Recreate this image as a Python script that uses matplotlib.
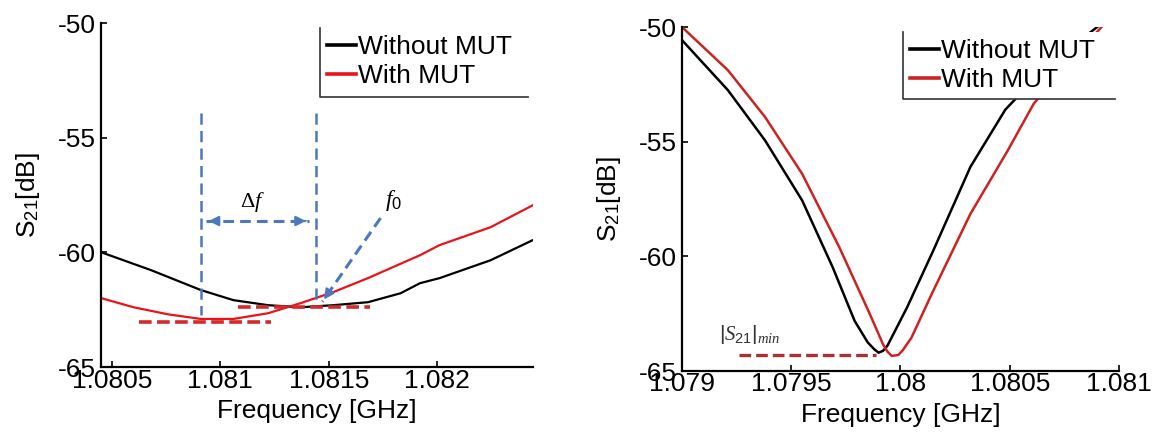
import matplotlib
matplotlib.use("Agg")
import matplotlib.pyplot as plt
from matplotlib.patches import Rectangle
from matplotlib.lines import Line2D

plt.rcParams['font.family'] = ['Liberation Sans', 'DejaVu Sans']
plt.rcParams['mathtext.fontset'] = 'custom'
plt.rcParams['mathtext.rm'] = 'Liberation Sans'
plt.rcParams['mathtext.it'] = 'Liberation Serif:italic'
plt.rcParams['mathtext.bf'] = 'Liberation Serif'

# ---- left panel data (GHz, dB) ----
freq_l_without = [1.08045, 1.08068, 1.08091, 1.08106, 1.08122, 1.08137, 1.08152,
                  1.08168, 1.08183, 1.08192, 1.08201, 1.082245, 1.08244]
s21_l_without = [-59.99, -60.77, -61.64, -62.08, -62.30, -62.39, -62.30,
                 -62.17, -61.78, -61.34, -61.12, -60.34, -59.46]
freq_l_with = [1.08045, 1.08060, 1.08076, 1.08091, 1.08106, 1.08122, 1.08137,
               1.08152, 1.08168, 1.08192, 1.08201, 1.082245, 1.08244]
s21_l_with = [-61.99, -62.39, -62.70, -62.90, -62.90, -62.65, -62.21,
              -61.73, -61.12, -60.12, -59.68, -58.90, -57.94]

# ---- right panel data (GHz, dB) ----
freq_r_without = [1.07900, 1.07921, 1.07938, 1.07955, 1.07969, 1.07979, 1.07985,
                  1.07988, 1.07990, 1.07992, 1.07994, 1.08003, 1.08015, 1.08032,
                  1.08048, 1.08065, 1.08078, 1.08090]
s21_r_without = [-50.57, -52.75, -54.94, -57.56, -60.48, -62.81, -63.75,
                 -64.05, -64.20, -64.12, -63.90, -62.23, -59.75, -56.10,
                 -53.60, -51.90, -50.90, -50.00]
freq_r_with = [1.07900, 1.07921, 1.07938, 1.07955, 1.07972, 1.07986, 1.07992,
               1.07994, 1.07996, 1.07999, 1.08001, 1.08005, 1.08015, 1.08032,
               1.08049, 1.08061, 1.08075, 1.08092]
s21_r_with = [-50.00, -51.88, -53.92, -56.40, -59.60, -62.52, -63.83,
              -64.15, -64.34, -64.30, -64.10, -63.55, -61.50, -58.15,
              -55.40, -53.34, -51.80, -50.00]

series_labels = ['Without MUT', 'With MUT']

xticks_l = [1.0805, 1.081, 1.0815, 1.082]
xticklabels_l = ['1.0805', '1.081', '1.0815', '1.082']
xticks_r = [1.079, 1.0795, 1.08, 1.0805, 1.081]
xticklabels_r = ['1.079', '1.0795', '1.08', '1.0805', '1.081']
yticks = [-50, -55, -60, -65]
yticklabels = ['-50', '-55', '-60', '-65']

# annotations (left panel)
df_lines_f = [1.08091, 1.08144]
df_lines_top = -53.93
df_lines_bottom = [-62.73, -62.17]
df_arrow_f = [1.080933, 1.081407]
df_arrow_y = -58.63
f0_arrow_start = (1.081738, -58.5)
f0_arrow_end = (1.08147, -62.15)
red_dash_low_f = [1.080624, 1.081232]
red_dash_low_y = -63.03
red_dash_high_f = [1.08108, 1.08169]
red_dash_high_y = -62.39
# annotation (right panel)
smin_dash_f = [1.07926, 1.07989]
smin_dash_y = -64.3

BLUE = '#4d78bd'
FS = 19

fig = plt.figure(figsize=(11.61, 4.36), dpi=100)
ax1 = fig.add_axes([0.087, 0.158, 0.372, 0.789])
ax2 = fig.add_axes([0.5874, 0.149, 0.3764, 0.789])


def style_axes(ax, xticks, xlabels, xlim):
    ax.set_xlim(*xlim)
    ax.set_ylim(-65, -50)
    ax.set_xticks(xticks, xlabels)
    ax.set_yticks(yticks, yticklabels)
    for s in ['top', 'right']:
        ax.spines[s].set_visible(False)
    for s in ['left', 'bottom']:
        ax.spines[s].set_linewidth(1.6)
    ax.tick_params(direction='in', length=4, width=1.2, labelsize=FS)
    ax.tick_params(axis='x', pad=1)
    ax.tick_params(axis='y', pad=4)
    ax.set_xlabel('Frequency [GHz]', fontsize=FS, labelpad=5)
    ax.set_ylabel(r'S$_{\mathrm{21}}$[dB]', fontsize=FS, labelpad=11)


def fake_legend(ax, lines, x0, x1, y0, y1):
    ax.add_patch(Rectangle((x0, y0), x1 - x0, y1 - y0, transform=ax.transAxes,
                           facecolor='white', edgecolor='none', zorder=3))
    ax.add_line(Line2D([x0, x0, x1], [y1, y0, y0], transform=ax.transAxes,
                       color='#333333', lw=1.2, zorder=4))
    leg = ax.legend(lines, series_labels, loc='upper left', bbox_to_anchor=(x0, y1),
                    frameon=False, fontsize=FS, handlelength=1.1, handletextpad=0.1,
                    labelspacing=0.2, borderpad=0.25, borderaxespad=0)
    for h in leg.legend_handles:
        h.set_linewidth(2.6)


# ---------------- left panel ----------------
l1, = ax1.plot(freq_l_without, s21_l_without, color='black', lw=1.6, zorder=2)
l2, = ax1.plot(freq_l_with, s21_l_with, color='#e8141a', lw=1.6, zorder=2)
style_axes(ax1, xticks_l, xticklabels_l, (1.08045, 1.08244))

for f, yb in zip(df_lines_f, df_lines_bottom):
    ax1.plot([f, f], [df_lines_top, yb], color=BLUE, lw=1.8, ls=(0, (4.5, 2.5)), zorder=2.5)
ax1.plot(df_arrow_f, [df_arrow_y, df_arrow_y], color=BLUE, lw=2.2, ls=(0, (3.5, 2)), zorder=2.5)
ax1.annotate('', xy=(df_arrow_f[0], df_arrow_y), xytext=(df_arrow_f[0] + 0.00003, df_arrow_y),
             arrowprops=dict(arrowstyle='-|>,head_length=0.6,head_width=0.3', color=BLUE, lw=1.5))
ax1.annotate('', xy=(df_arrow_f[1], df_arrow_y), xytext=(df_arrow_f[1] - 0.00003, df_arrow_y),
             arrowprops=dict(arrowstyle='-|>,head_length=0.6,head_width=0.3', color=BLUE, lw=1.5))
ax1.text(1.081149, -57.8, r'$\mathbf{\Delta}\mathit{f}$', fontsize=16, ha='center', va='center')

ax1.plot([f0_arrow_start[0], f0_arrow_end[0]], [f0_arrow_start[1], f0_arrow_end[1]],
         color=BLUE, lw=2.2, ls=(0, (3.5, 2)), zorder=2.5)
dx = (f0_arrow_end[0] - f0_arrow_start[0]) * 0.12
dy = (f0_arrow_end[1] - f0_arrow_start[1]) * 0.12
ax1.annotate('', xy=f0_arrow_end, xytext=(f0_arrow_end[0] - dx, f0_arrow_end[1] - dy),
             arrowprops=dict(arrowstyle='-|>,head_length=0.6,head_width=0.3', color=BLUE, lw=1.5))
ax1.text(1.081798, -57.72, r'$\mathit{f}_{\mathit{0}}$', fontsize=17, ha='center', va='center')

ax1.plot(red_dash_low_f, [red_dash_low_y] * 2, color='#d42a2a', lw=2.6, ls=(0, (3.5, 1.5)), zorder=2.5)
ax1.plot(red_dash_high_f, [red_dash_high_y] * 2, color='#d42a2a', lw=2.6, ls=(0, (3.5, 1.5)), zorder=2.5)

fake_legend(ax1, [l1, l2], 0.507, 0.988, 0.785, 0.985)

# ---------------- right panel ----------------
r1, = ax2.plot(freq_r_without, s21_r_without, color='black', lw=1.8, zorder=2)
r2, = ax2.plot(freq_r_with, s21_r_with, color='#cc2222', lw=1.8, zorder=2)
style_axes(ax2, xticks_r, xticklabels_r, (1.079, 1.081))
ax2.plot(smin_dash_f, [smin_dash_y] * 2, color='#a83232', lw=2.4, ls=(0, (3.5, 1.5)), zorder=2.5)
ax2.text(1.07931, -63.4, r'$\mathit{|S_{21}|_{min}}$', fontsize=15, color='#333333',
         ha='center', va='center')
fake_legend(ax2, [r1, r2], 0.506, 0.991, 0.791, 0.985)

fig.savefig('out.png', dpi=100)
